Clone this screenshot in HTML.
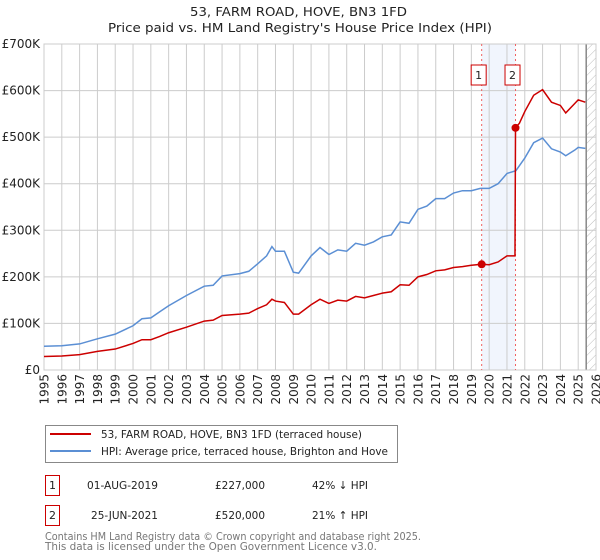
<!DOCTYPE html>
<html><head><meta charset="utf-8"><style>
body{margin:0;background:#fff;font-family:"DejaVu Sans","Liberation Sans",sans-serif;}
svg{display:block}
svg text{font-family:"DejaVu Sans","Liberation Sans",sans-serif;}
</style></head><body>
<svg id="c" width="600" height="560" xmlns="http://www.w3.org/2000/svg">
<defs><pattern id="hatch" width="6" height="6" patternUnits="userSpaceOnUse" patternTransform="rotate(45)"><line x1="0" y1="0" x2="0" y2="6" stroke="#bbb" stroke-width="1"/></pattern></defs>
<text x="190" y="16" textLength="217" lengthAdjust="spacingAndGlyphs" font-size="12" fill="#222">53, FARM ROAD, HOVE, BN3 1FD</text>
<text x="108" y="32" textLength="384" lengthAdjust="spacingAndGlyphs" font-size="12" fill="#222">Price paid vs. HM Land Registry's House Price Index (HPI)</text>
<g id="plot"></g>
<rect x="45.5" y="425.5" width="352" height="37" fill="#fff" stroke="#888"/>
<line x1="50" y1="434" x2="91" y2="434" stroke="#cc0000" stroke-width="2"/>
<text x="101" y="438" textLength="261" lengthAdjust="spacingAndGlyphs" font-size="11" fill="#222">53, FARM ROAD, HOVE, BN3 1FD (terraced house)</text>
<line x1="50" y1="451" x2="91" y2="451" stroke="#5b8fd4" stroke-width="2"/>
<text x="101" y="455" textLength="287" lengthAdjust="spacingAndGlyphs" font-size="11" fill="#222">HPI: Average price, terraced house, Brighton and Hove</text>
<rect x="45.5" y="475.5" width="14" height="20" fill="none" stroke="#cc0000"/>
<text x="52.5" y="489" text-anchor="middle" font-size="11" fill="#222">1</text>
<text x="87" y="489" textLength="71" lengthAdjust="spacingAndGlyphs" font-size="11" fill="#222">01-AUG-2019</text>
<text x="215" y="489" textLength="50" lengthAdjust="spacingAndGlyphs" font-size="11" fill="#222">£227,000</text>
<text x="312" y="489" textLength="56" lengthAdjust="spacingAndGlyphs" font-size="11" fill="#222">42% ↓ HPI</text>
<rect x="45.5" y="505.5" width="14" height="20" fill="none" stroke="#cc0000"/>
<text x="52.5" y="519" text-anchor="middle" font-size="11" fill="#222">2</text>
<text x="91" y="519" textLength="67" lengthAdjust="spacingAndGlyphs" font-size="11" fill="#222">25-JUN-2021</text>
<text x="215" y="519" textLength="50" lengthAdjust="spacingAndGlyphs" font-size="11" fill="#222">£520,000</text>
<text x="312" y="519" textLength="56" lengthAdjust="spacingAndGlyphs" font-size="11" fill="#222">21% ↑ HPI</text>
<text x="45" y="540" textLength="376" lengthAdjust="spacingAndGlyphs" font-size="11" fill="#777">Contains HM Land Registry data © Crown copyright and database right 2025.</text>
<text x="45" y="550" textLength="332" lengthAdjust="spacingAndGlyphs" font-size="11" fill="#777">This data is licensed under the Open Government Licence v3.0.</text>
</svg>
<script>
const hpiYears=[1995,1996,1997,1998,1999,2000,2000.5,2001,2001.5,2002,2003,2004,2004.5,2005,2006,2006.5,2007,2007.5,2007.8,2008,2008.5,2009,2009.3,2010,2010.5,2011,2011.5,2012,2012.5,2013,2013.5,2014,2014.5,2015,2015.5,2016,2016.5,2017,2017.5,2018,2018.5,2019,2019.5,2020,2020.5,2021,2021.5,2022,2022.5,2023,2023.5,2024,2024.3,2024.8,2025,2025.4];
const hpiValues=[51,52,56,67,77,95,110,112,125,138,160,180,182,202,207,212,228,245,265,255,255,210,208,245,263,248,258,255,272,268,275,286,290,318,315,345,352,368,368,380,385,385,390,390,400,422,428,455,488,498,475,468,460,472,478,476];
const redYears=[1995,1996,1997,1998,1999,2000,2000.5,2001,2001.5,2002,2003,2004,2004.5,2005,2006,2006.5,2007,2007.5,2007.8,2008,2008.5,2009,2009.3,2010,2010.5,2011,2011.5,2012,2012.5,2013,2013.5,2014,2014.5,2015,2015.5,2016,2016.5,2017,2017.5,2018,2018.5,2019,2019.58,2020,2020.5,2021,2021.45,2021.48,2021.7,2022,2022.5,2023,2023.5,2024,2024.3,2024.8,2025,2025.4];
const redValues=[29,30,33,40,45,57,65,65,72,80,92,105,107,117,120,122,132,140,152,148,145,120,120,140,152,143,150,148,158,155,160,165,168,183,182,200,205,213,215,220,222,225,227,226,232,245,245,520,530,555,590,602,575,568,552,572,580,575];
const saleYears=[2019.58,2021.48];
const saleValues=[227,520];
const saleLabels=["1","2"];
const yTicks=[0,100,200,300,400,500,600,700];
const yTickLabels=["£0","£100K","£200K","£300K","£400K","£500K","£600K","£700K"];
const xTicks=[1995,1996,1997,1998,1999,2000,2001,2002,2003,2004,2005,2006,2007,2008,2009,2010,2011,2012,2013,2014,2015,2016,2017,2018,2019,2020,2021,2022,2023,2024,2025,2026];

const L=44,R=596,T=44,B=370,X0=1995,X1=2026,YMAX=700;
const sx=y=>L+(y-X0)/(X1-X0)*(R-L);
const sy=v=>B-v/YMAX*(B-T);
const NS="http://www.w3.org/2000/svg";
const g=document.getElementById('plot');
function mk(t,a){const e=document.createElementNS(NS,t);for(const k in a)e.setAttribute(k,a[k]);g.appendChild(e);return e;}
let e=mk('rect',{x:L,y:T,width:R-L,height:B-T,fill:'#fff'});


e=mk('rect',{x:sx(saleYears[0]),y:T,width:sx(saleYears[1])-sx(saleYears[0]),height:B-T,fill:'#f1f5fd'});


const hs=2025.45;
e=mk('rect',{x:sx(hs),y:T,width:R-sx(hs),height:B-T,fill:'url(#hatch)'});


xTicks.forEach(t=>{
  e=mk('line',{x1:sx(t),y1:T,x2:sx(t),y2:B,stroke:'#ccc','stroke-width':1});
  
  
  e=mk('text',{x:0,y:0,transform:`translate(${sx(t)+4.5},${B+4}) rotate(-90)`,'text-anchor':'end','font-size':12,fill:'#222'});
  e.textContent=t;
  
  
});
yTicks.forEach((t,i)=>{
  e=mk('line',{x1:L,y1:sy(t),x2:R,y2:sy(t),stroke:'#ccc','stroke-width':1});
  
  
  e=mk('text',{x:L-4,y:sy(t)+4,'text-anchor':'end','font-size':12,fill:'#222'});
  e.textContent=yTickLabels[i];
  
  
});
e=mk('line',{x1:sx(hs),y1:T,x2:sx(hs),y2:B,stroke:'#888','stroke-width':1.5});


e=mk('rect',{x:L,y:T,width:R-L,height:B-T,fill:'none',stroke:'#ccc'});


saleYears.forEach((s,i)=>{
  e=mk('line',{x1:sx(s),y1:T,x2:sx(s),y2:B,stroke:'#f06060','stroke-width':1,'stroke-dasharray':'2,3'});
  
  
  e=mk('rect',{x:sx(s)-10.5,y:65,width:15,height:20,fill:'#fff',stroke:'#cc0000'});
  
  
  e=mk('text',{x:sx(s)-3,y:79,'text-anchor':'middle','font-size':11,fill:'#222'});
  e.textContent=saleLabels[i];
  
  
});
e=mk('polyline',{points:hpiYears.map((y,i)=>sx(y)+','+sy(hpiValues[i])).join(' '),fill:'none',stroke:'#5b8fd4','stroke-width':1.5});


e=mk('polyline',{points:redYears.map((y,i)=>sx(y)+','+sy(redValues[i])).join(' '),fill:'none',stroke:'#cc0000','stroke-width':1.5});


saleYears.forEach((s,i)=>{
  e=mk('circle',{cx:sx(s),cy:sy(saleValues[i]),r:4,fill:'#cc0000'});
  
  
});
</script>
</body></html>
